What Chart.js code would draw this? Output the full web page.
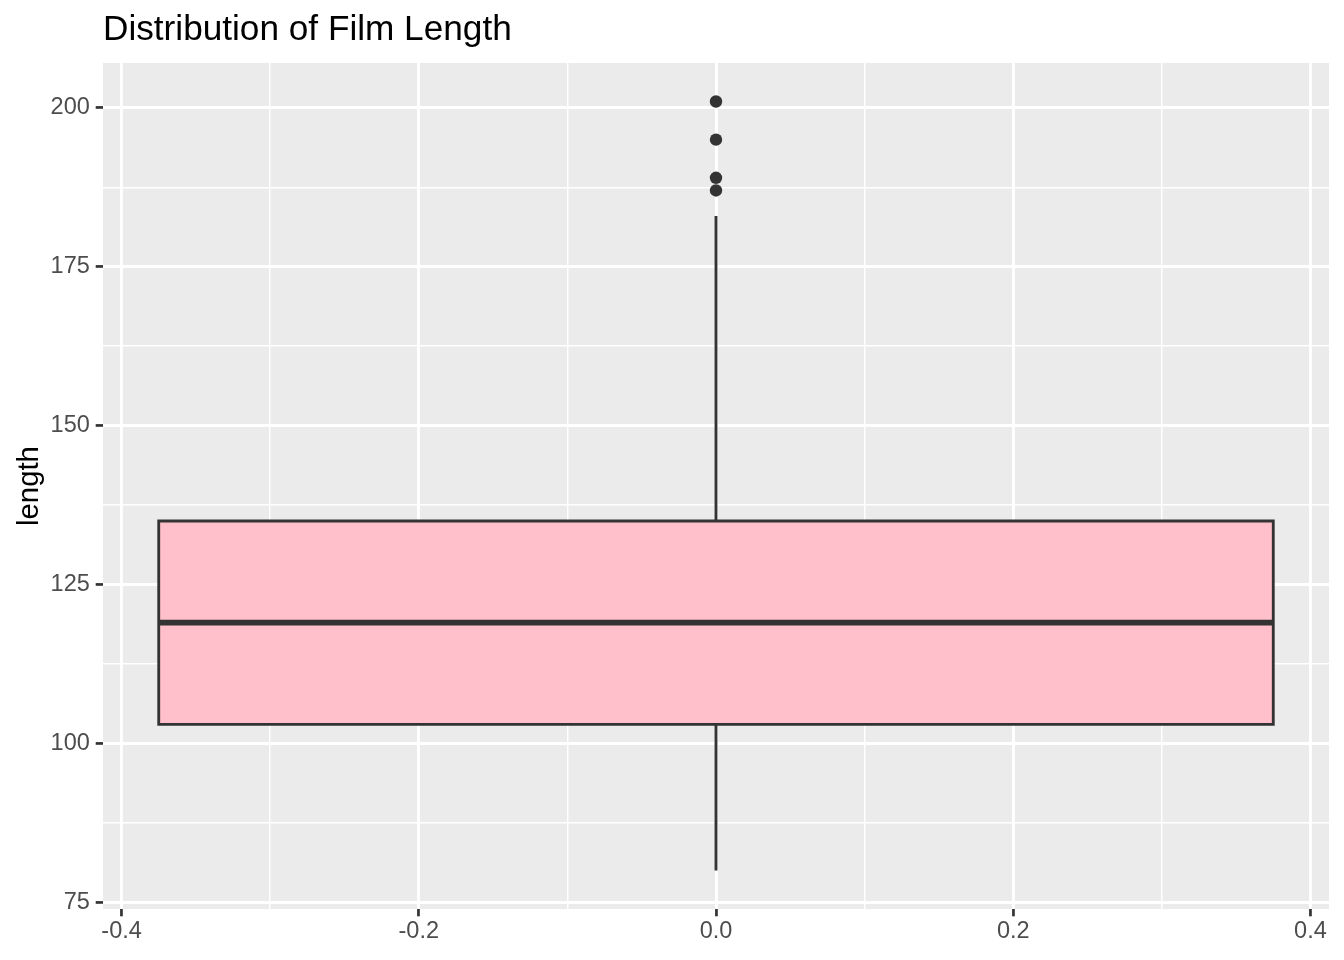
<!DOCTYPE html>
<html>
<head>
<meta charset="utf-8">
<script src="https://cdn.jsdelivr.net/npm/chart.js@4/dist/chart.umd.min.js"></script>
<style>
  html, body { margin: 0; padding: 0; background: #ffffff; }
  #wrap { width: 1344px; height: 960px; }
</style>
</head>
<body>
<div id="wrap"><canvas id="c" width="1344" height="960"></canvas></div>
<script>
// ---- data ----
const chartTitle = "Distribution of Film Length";
const yAxisTitle = "length";
const boxEdges = [-0.375, 0.375];      // box left / right (x)
const boxCenter = [0];                 // box x position
const whiskerLow = [80];
const quartile1 = [103];
const medianVal = [119];
const quartile3 = [135];
const whiskerHigh = [183];
const outlierValues = [201, 195, 189, 187];
const xTickValues = [-0.4, -0.3, -0.2, -0.1, 0, 0.1, 0.2, 0.3, 0.4];
const xMajorTicks = [-0.4, -0.2, 0, 0.2, 0.4];
const yTickValues = [75, 87.5, 100, 112.5, 125, 137.5, 150, 162.5, 175, 187.5, 200];
const yMajorTicks = [75, 100, 125, 150, 175, 200];
const xRange = [-0.4125, 0.4125];
const yRange = [73.95, 207.05];

// ---- styles ----
const DARK = '#333333';
const PINK = '#FFC0CB';
const FONT = '"Liberation Sans", Arial, Helvetica, sans-serif';

function isMajor(list, v) { return list.some(m => Math.abs(m - v) < 1e-9); }

const panelBg = {
  id: 'panelBg',
  beforeDraw(chart) {
    const a = chart.chartArea, ctx = chart.ctx;
    ctx.save();
    ctx.fillStyle = '#EBEBEB';
    ctx.fillRect(a.left, a.top, a.right - a.left, a.bottom - a.top);
    ctx.restore();
  }
};

const xL = boxEdges[0], xR = boxEdges[1], xc = boxCenter[0];
const boxPts = [
  {x: xL, y: quartile1[0]}, {x: xR, y: quartile1[0]},
  {x: xR, y: quartile3[0]}, {x: xL, y: quartile3[0]},
  {x: xL, y: quartile1[0]}
];

function gridFor(major) {
  return {
    drawOnChartArea: true,
    drawTicks: true,
    tickLength: 7.3,
    color: '#FFFFFF',
    lineWidth: (c) => (c.tick && isMajor(major, c.tick.value)) ? 2.9 : 1.45,
    tickColor: (c) => (c.tick && isMajor(major, c.tick.value)) ? DARK : 'rgba(0,0,0,0)',
    tickWidth: 2.7
  };
}

new Chart(document.getElementById('c'), {
  type: 'scatter',
  data: {
    datasets: [
      { // outliers
        order: 0,
        data: outlierValues.map(v => ({x: xc, y: v})),
        showLine: false, pointRadius: 6.2, pointBackgroundColor: DARK, pointBorderWidth: 0,
        pointBorderColor: DARK
      },
      { // median
        order: 1,
        data: [{x: xL, y: medianVal[0]}, {x: xR, y: medianVal[0]}],
        showLine: true, borderColor: DARK, borderWidth: 5.7, pointRadius: 0, fill: false,
        borderCapStyle: 'butt'
      },
      { // box
        order: 2,
        data: boxPts,
        showLine: true, borderColor: DARK, borderWidth: 2.85, backgroundColor: PINK,
        fill: 'shape', pointRadius: 0, borderJoinStyle: 'miter', borderCapStyle: 'square'
      },
      { // upper whisker
        order: 3,
        data: [{x: xc, y: quartile3[0]}, {x: xc, y: whiskerHigh[0]}],
        showLine: true, borderColor: DARK, borderWidth: 2.85, pointRadius: 0, fill: false
      },
      { // lower whisker
        order: 4,
        data: [{x: xc, y: quartile1[0]}, {x: xc, y: whiskerLow[0]}],
        showLine: true, borderColor: DARK, borderWidth: 2.85, pointRadius: 0, fill: false
      }
    ]
  },
  options: {
    responsive: false,
    animation: false,
    devicePixelRatio: 1,
    layout: { padding: { top: 0, left: 0, right: 15, bottom: 0 } },
    plugins: {
      legend: { display: false },
      tooltip: { enabled: false },
      title: {
        display: true,
        text: chartTitle,
        align: 'start',
        fullSize: false,
        color: '#000000',
        font: { family: FONT, size: 35.2, weight: 'normal', lineHeight: 1.2 },
        padding: { top: 9.5, bottom: 11.3 }
      }
    },
    scales: {
      x: {
        type: 'linear',
        min: xRange[0], max: xRange[1],
        border: { display: false },
        grid: gridFor(xMajorTicks),
        afterBuildTicks: (s) => { s.ticks = xTickValues.map(v => ({value: v})); },
        afterFit: (s) => { s.height = 51; },
        ticks: {
          autoSkip: false, maxRotation: 0, padding: 1,
          color: '#4D4D4D',
          font: { family: FONT, size: 23.5 },
          callback: (v) => isMajor(xMajorTicks, v) ? v.toFixed(1) : ''
        }
      },
      y: {
        type: 'linear',
        min: yRange[0], max: yRange[1],
        border: { display: false },
        grid: gridFor(yMajorTicks),
        afterBuildTicks: (s) => { s.ticks = yTickValues.map(v => ({value: v})); },
        afterFit: (s) => { s.width = 103; },
        title: {
          display: true, text: yAxisTitle, color: '#000000',
          font: { family: FONT, size: 29.3, lineHeight: 1.2 },
          padding: { top: 12, bottom: 4 }
        },
        ticks: {
          autoSkip: false, padding: 5.9,
          color: '#4D4D4D',
          font: { family: FONT, size: 23.5 },
          callback: (v) => isMajor(yMajorTicks, v) ? String(v) : ''
        }
      }
    }
  },
  plugins: [panelBg]
});
</script>
</body>
</html>
